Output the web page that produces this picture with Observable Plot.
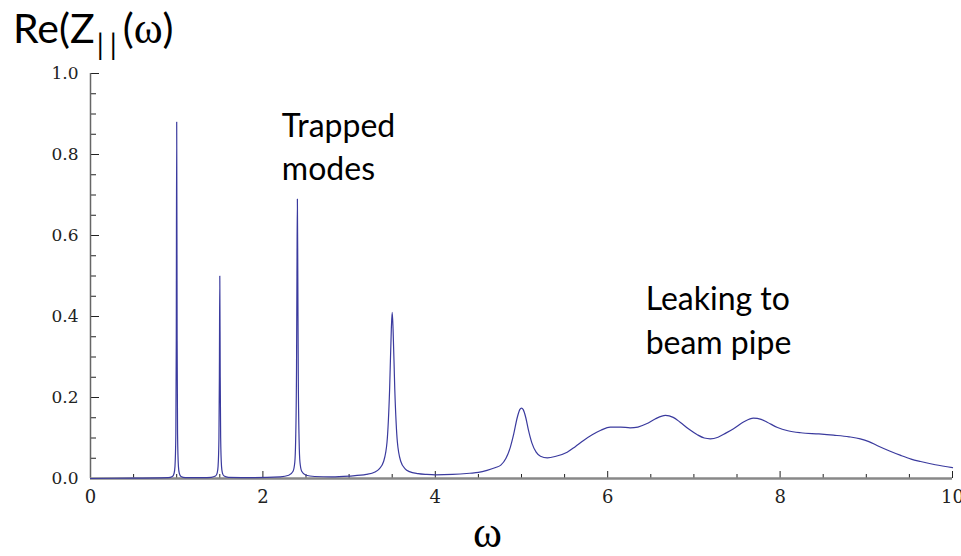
<!DOCTYPE html>
<html>
<head>
<meta charset="utf-8">
<script src="https://cdn.jsdelivr.net/npm/d3@7"></script>
<script src="https://cdn.jsdelivr.net/npm/@observablehq/plot@0.6"></script>
<style>
  body { margin: 0; background: #fff; }
  #wrap { position: relative; width: 961px; height: 556px; overflow: hidden; }
  #title { position: absolute; left: 13px; top: 8px; font-family: Lato, "Open Sans", sans-serif; font-size: 41px; line-height: 40px; color: #000; white-space: nowrap; }
  #title .sub { font-size: 28px; position: relative; top: 12px; letter-spacing: 6px; margin-left: 2px; }
  #title .w { font-family: "Liberation Serif", serif; font-size: 44px; }
  #chart { position: absolute; left: 0; top: 0; }
</style>
</head>
<body>
<div id="wrap">
  <div id="chart"></div>
  <div id="title">Re(Z<span class="sub">||</span>(<span class="w">ω</span>)</div>
</div>
<script>
// Frequency samples (ω) and Re(Z||)
const omega = [
  0, 0.5, 0.8, 0.9, 0.95, 0.97, 0.98, 0.99, 0.995, 1.0, 1.005, 1.01, 1.02, 1.03, 1.05, 1.1,
  1.3, 1.4, 1.45, 1.47, 1.48, 1.49, 1.495, 1.5, 1.505, 1.51, 1.52, 1.53, 1.55, 1.6,
  1.9, 2.2, 2.3, 2.35, 2.37, 2.38, 2.39, 2.395, 2.4, 2.405, 2.41, 2.42, 2.43, 2.45, 2.5, 2.6, 2.8,
  3.0, 3.2, 3.3, 3.35, 3.4, 3.44, 3.47, 3.49, 3.5, 3.51, 3.53, 3.56, 3.6, 3.65, 3.7, 3.8, 3.9,
  4.0, 4.2, 4.4, 4.5, 4.6, 4.7, 4.76, 4.82, 4.87, 4.91, 4.95, 4.98, 5.0, 5.02, 5.05, 5.08, 5.12,
  5.17, 5.22, 5.3, 5.4, 5.53, 5.62, 5.72, 5.82, 5.92, 6.03, 6.15, 6.26, 6.35, 6.45, 6.55, 6.67,
  6.76, 6.84, 6.94, 7.04, 7.12, 7.19, 7.28, 7.37, 7.46, 7.58, 7.69, 7.78, 7.85, 7.97, 8.09, 8.24,
  8.45, 8.62, 8.8, 8.93, 9.03, 9.13, 9.27, 9.4, 9.52, 9.63, 9.8, 10.0
];
const reZ = [
  0.000, 0.001, 0.0015, 0.002, 0.005, 0.013, 0.03, 0.11, 0.34, 0.88, 0.34, 0.11, 0.03, 0.013, 0.005, 0.002,
  0.002, 0.003, 0.006, 0.014, 0.03, 0.10, 0.25, 0.50, 0.25, 0.10, 0.03, 0.014, 0.006, 0.003,
  0.002, 0.004, 0.008, 0.018, 0.04, 0.095, 0.27, 0.50, 0.69, 0.50, 0.27, 0.095, 0.04, 0.018, 0.008, 0.005, 0.004,
  0.006, 0.010, 0.016, 0.024, 0.042, 0.090, 0.22, 0.37, 0.41, 0.37, 0.22, 0.090, 0.042, 0.024, 0.017, 0.012, 0.010,
  0.009, 0.010, 0.013, 0.015, 0.020, 0.027, 0.033, 0.050, 0.077, 0.110, 0.150, 0.170, 0.174, 0.170, 0.150, 0.120, 0.088,
  0.065, 0.055, 0.051, 0.055, 0.065, 0.078, 0.094, 0.108, 0.119, 0.127, 0.127, 0.125, 0.127, 0.135, 0.147, 0.156,
  0.151, 0.139, 0.122, 0.108, 0.100, 0.098, 0.102, 0.112, 0.123, 0.140, 0.149, 0.146, 0.139, 0.126, 0.118, 0.113,
  0.110, 0.107, 0.103, 0.098, 0.091, 0.081, 0.068, 0.057, 0.048, 0.042, 0.034, 0.027
];
const xMajorTicks = [0, 2, 4, 6, 8, 10];
const xMinorTicks = [0.5, 1, 1.5, 2.5, 3, 3.5, 4.5, 5, 5.5, 6.5, 7, 7.5, 8.5, 9, 9.5];
const yMajorTicks = [0, 0.2, 0.4, 0.6, 0.8, 1.0];
const yMinorTicks = [0.05, 0.1, 0.15, 0.25, 0.3, 0.35, 0.45, 0.5, 0.55, 0.65, 0.7, 0.75, 0.85, 0.9, 0.95];
const annotations = ["Trapped\nmodes", "Leaking to\nbeam pipe"];
const xLabel = "ω";

const data = omega.map((w, i) => ({w, z: reZ[i]}));

const chart = Plot.plot({
  width: 961,
  height: 556,
  marginLeft: 90,
  marginRight: 9,
  marginTop: 73,
  marginBottom: 78,
  style: {fontFamily: "DejaVu Serif", fontSize: "17px", color: "#222", background: "transparent", overflow: "visible"},
  x: {domain: [0, 10]},
  y: {domain: [0, 1]},
  marks: [
    // inward tick marks
    Plot.axisX({ticks: xMajorTicks, tickSize: 7, dy: -7, tickFormat: () => "", label: null, stroke: "#222"}),
    Plot.axisX({ticks: xMinorTicks, tickSize: 4, dy: -4, tickFormat: () => "", label: null, stroke: "#222"}),
    Plot.axisY({ticks: yMajorTicks, tickSize: 9, dx: 9, tickFormat: () => "", label: null, stroke: "#222"}),
    Plot.axisY({ticks: yMinorTicks, tickSize: 6, dx: 6, tickFormat: () => "", label: null, stroke: "#222"}),
    // tick labels
    Plot.axisX({ticks: xMajorTicks, tickSize: 0, tickPadding: 12, label: null, fontSize: 18}),
    Plot.axisY({ticks: yMajorTicks, tickSize: 0, tickPadding: 12, tickFormat: d3.format(".1f"), label: null, fontSize: 17}),
    // axis lines
    Plot.ruleX([0], {stroke: "#666", strokeWidth: 1.5}),
    Plot.ruleY([0], {stroke: "#888", strokeWidth: 2.5}),
    // curve
    Plot.line(data, {x: "w", y: "z", stroke: "#3a3a9e", strokeWidth: 1.2, curve: "monotone-x"}),
    // annotations
    Plot.text([annotations[0]], {x: 2.22, y: 0.92, text: d => d, textAnchor: "start", lineAnchor: "top", lineHeight: 1.36, fontFamily: "Lato", fontSize: 32, fill: "#000"}),
    Plot.text([annotations[1]], {x: 6.44, y: 0.492, text: d => d, textAnchor: "start", lineAnchor: "top", lineHeight: 1.36, fontFamily: "Lato", fontSize: 32, fill: "#000"}),
    // axis label
    Plot.text([xLabel], {frameAnchor: "bottom", dx: -34, dy: 54, text: d => d, lineAnchor: "middle", fontFamily: "Liberation Serif", fontSize: 44, fill: "#000"})
  ]
});
document.getElementById("chart").appendChild(chart);
</script>
</body>
</html>
